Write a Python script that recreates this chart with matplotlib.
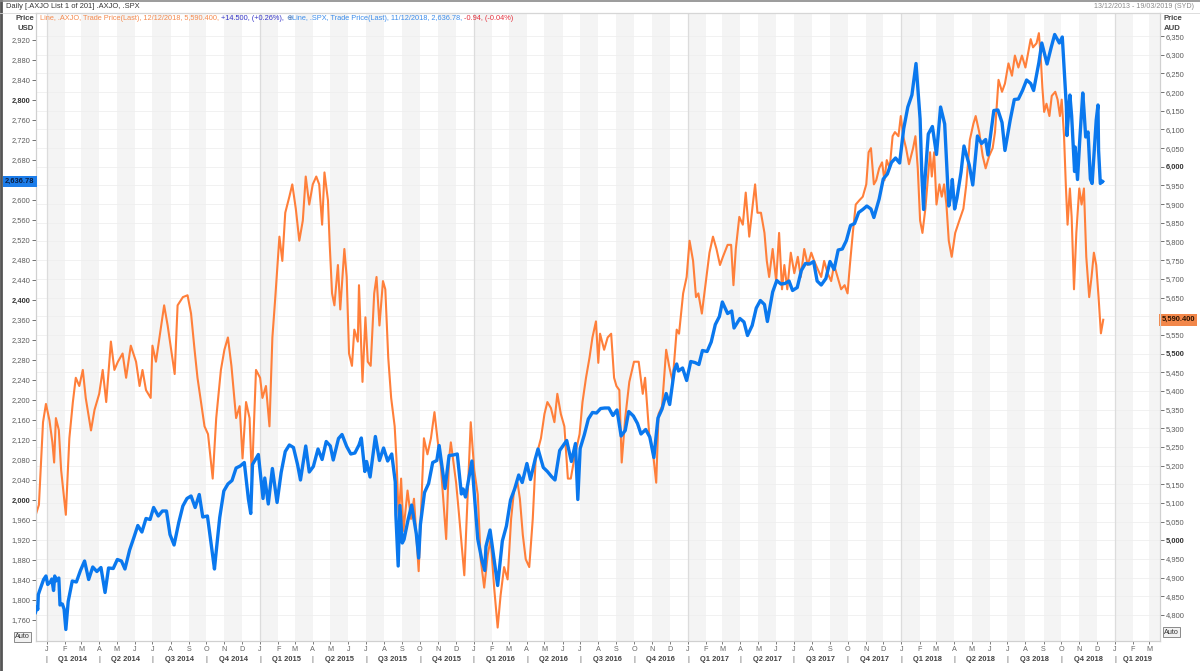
import matplotlib
matplotlib.use("Agg")
import matplotlib.pyplot as plt
import matplotlib.transforms as mtransforms
import pandas as pd

plt.rcParams["font.family"] = ["Liberation Sans", "DejaVu Sans"]

# .SPX daily closes (sampled), USD
spx_dates = [
    "2013-12-13", "2013-12-16", "2013-12-17", "2013-12-18", "2013-12-20", "2013-12-27", "2013-12-31",
    "2014-01-03", "2014-01-08", "2014-01-10", "2014-01-13", "2014-01-15", "2014-01-17", "2014-01-22",
    "2014-01-24", "2014-01-28", "2014-01-31", "2014-02-03", "2014-02-07", "2014-02-14", "2014-02-21",
    "2014-02-28", "2014-03-07", "2014-03-14", "2014-03-21", "2014-03-28", "2014-04-04", "2014-04-11",
    "2014-04-17", "2014-04-25", "2014-05-02", "2014-05-09", "2014-05-15", "2014-05-23", "2014-05-30",
    "2014-06-06", "2014-06-13", "2014-06-20", "2014-06-27", "2014-07-03", "2014-07-11", "2014-07-18",
    "2014-07-25", "2014-07-31", "2014-08-07", "2014-08-15", "2014-08-22", "2014-08-29", "2014-09-05",
    "2014-09-12", "2014-09-19", "2014-09-25", "2014-10-03", "2014-10-10", "2014-10-15", "2014-10-17",
    "2014-10-24", "2014-10-31", "2014-11-07", "2014-11-14", "2014-11-21", "2014-11-28", "2014-12-05",
    "2014-12-12", "2014-12-16", "2014-12-19", "2014-12-29",
    "2015-01-06", "2015-01-09", "2015-01-15", "2015-01-22", "2015-01-30", "2015-02-06", "2015-02-13",
    "2015-02-20", "2015-02-27", "2015-03-06", "2015-03-11", "2015-03-20", "2015-03-26", "2015-04-02",
    "2015-04-10", "2015-04-17", "2015-04-24", "2015-05-01", "2015-05-06", "2015-05-15", "2015-05-21",
    "2015-05-29", "2015-06-05", "2015-06-12", "2015-06-19", "2015-06-23", "2015-06-29", "2015-07-02",
    "2015-07-08", "2015-07-17", "2015-07-24", "2015-07-31", "2015-08-07", "2015-08-14", "2015-08-20",
    "2015-08-21", "2015-08-25", "2015-08-28", "2015-09-01", "2015-09-04", "2015-09-11", "2015-09-17",
    "2015-09-25", "2015-09-29", "2015-10-02", "2015-10-09", "2015-10-16", "2015-10-23", "2015-10-30",
    "2015-11-03", "2015-11-13", "2015-11-20", "2015-11-27", "2015-12-04", "2015-12-11", "2015-12-14",
    "2015-12-18", "2015-12-29", "2015-12-31",
    "2016-01-08", "2016-01-15", "2016-01-20", "2016-01-22", "2016-01-29", "2016-02-05", "2016-02-11",
    "2016-02-19", "2016-02-26", "2016-03-04", "2016-03-11", "2016-03-18", "2016-03-24", "2016-04-01",
    "2016-04-07", "2016-04-15", "2016-04-20", "2016-04-29", "2016-05-06", "2016-05-13", "2016-05-19",
    "2016-05-27", "2016-06-08", "2016-06-16", "2016-06-23", "2016-06-27", "2016-07-01", "2016-07-08",
    "2016-07-15", "2016-07-22", "2016-07-29", "2016-08-05", "2016-08-12", "2016-08-19", "2016-08-26",
    "2016-09-02", "2016-09-09", "2016-09-16", "2016-09-22", "2016-09-30", "2016-10-07", "2016-10-13",
    "2016-10-21", "2016-10-28", "2016-11-04", "2016-11-11", "2016-11-18", "2016-11-25", "2016-12-01",
    "2016-12-09", "2016-12-13", "2016-12-16", "2016-12-23", "2016-12-30",
    "2017-01-06", "2017-01-13", "2017-01-20", "2017-01-26", "2017-02-03", "2017-02-10", "2017-02-17",
    "2017-02-24", "2017-03-01", "2017-03-10", "2017-03-17", "2017-03-21", "2017-03-31", "2017-04-07",
    "2017-04-13", "2017-04-21", "2017-04-28", "2017-05-05", "2017-05-12", "2017-05-17", "2017-05-26",
    "2017-06-02", "2017-06-09", "2017-06-16", "2017-06-23", "2017-06-29", "2017-07-07", "2017-07-14",
    "2017-07-21", "2017-07-28", "2017-08-04", "2017-08-10", "2017-08-17", "2017-08-25", "2017-09-01",
    "2017-09-08", "2017-09-15", "2017-09-22", "2017-09-29", "2017-10-06", "2017-10-13", "2017-10-20",
    "2017-10-27", "2017-11-03", "2017-11-10", "2017-11-15", "2017-11-24", "2017-12-01", "2017-12-08",
    "2017-12-15", "2017-12-22", "2017-12-29",
    "2018-01-05", "2018-01-12", "2018-01-19", "2018-01-26", "2018-02-02", "2018-02-05", "2018-02-08",
    "2018-02-09", "2018-02-16", "2018-02-23", "2018-03-02", "2018-03-09", "2018-03-16", "2018-03-23",
    "2018-03-27", "2018-03-29", "2018-04-02", "2018-04-06", "2018-04-13", "2018-04-18", "2018-04-27",
    "2018-05-03", "2018-05-11", "2018-05-18", "2018-05-25", "2018-05-29", "2018-06-08", "2018-06-15",
    "2018-06-22", "2018-06-27", "2018-07-06", "2018-07-13", "2018-07-20", "2018-07-27", "2018-08-03",
    "2018-08-10", "2018-08-15", "2018-08-24", "2018-08-29", "2018-09-07", "2018-09-14", "2018-09-20",
    "2018-09-28", "2018-10-03", "2018-10-05", "2018-10-10", "2018-10-11", "2018-10-16", "2018-10-19",
    "2018-10-24", "2018-10-25", "2018-10-29", "2018-11-02", "2018-11-07", "2018-11-09", "2018-11-12",
    "2018-11-16", "2018-11-20", "2018-11-23", "2018-11-30", "2018-12-03", "2018-12-04", "2018-12-07",
    "2018-12-10", "2018-12-11",
]
spx_close = [
    1775, 1786, 1781, 1811, 1818, 1841, 1848,
    1831, 1837, 1842, 1819, 1848, 1838, 1844,
    1790, 1792, 1782, 1741, 1797, 1838, 1836,
    1859, 1878, 1841, 1866, 1857, 1865, 1815,
    1864, 1863, 1881, 1878, 1862, 1900, 1924,
    1949, 1936, 1963, 1961, 1985, 1968, 1978,
    1978, 1931, 1910, 1955, 1988, 2003, 2008,
    1985, 2011, 1966, 1968, 1906, 1862, 1886,
    1965, 2018, 2032, 2039, 2064, 2068, 2075,
    2002, 1973, 2071, 2091,
    2003, 2044, 1992, 2063, 1995, 2055, 2097,
    2110, 2105, 2071, 2040, 2108, 2056, 2067,
    2102, 2081, 2117, 2108, 2080, 2123, 2131,
    2107, 2092, 2094, 2110, 2124, 2057, 2077,
    2046, 2127, 2079, 2104, 2078, 2092, 2036,
    1971, 1868, 1989, 1914, 1921, 1961, 1990,
    1932, 1884, 1951, 2015, 2033, 2075, 2079,
    2109, 2023, 2089, 2090, 2092, 2012, 2022,
    2006, 2078, 2044,
    1922, 1880, 1859, 1907, 1940, 1880, 1829,
    1918, 1948, 2000, 2022, 2050, 2035, 2073,
    2041, 2081, 2102, 2065, 2057, 2047, 2040,
    2099, 2119, 2077, 2113, 2001, 2103, 2130,
    2162, 2175, 2174, 2183, 2184, 2184, 2169,
    2180, 2128, 2139, 2177, 2168, 2153, 2132,
    2141, 2126, 2085, 2164, 2182, 2213, 2191,
    2260, 2272, 2258, 2264, 2239,
    2277, 2275, 2271, 2299, 2297, 2316, 2351,
    2367, 2396, 2373, 2378, 2344, 2363, 2356,
    2329, 2349, 2384, 2399, 2391, 2357, 2416,
    2439, 2432, 2433, 2438, 2419, 2425, 2459,
    2473, 2472, 2477, 2438, 2430, 2443, 2477,
    2461, 2500, 2502, 2519, 2549, 2553, 2575,
    2581, 2588, 2582, 2565, 2602, 2642, 2652,
    2675, 2684, 2674,
    2743, 2786, 2810, 2873, 2762, 2649, 2581,
    2620, 2732, 2747, 2691, 2786, 2752, 2588,
    2612, 2641, 2582, 2604, 2656, 2708, 2670,
    2630, 2728, 2713, 2721, 2690, 2779, 2780,
    2755, 2699, 2760, 2801, 2802, 2819, 2840,
    2833, 2819, 2875, 2914, 2872, 2905, 2931,
    2914, 2926, 2886, 2786, 2729, 2810, 2768,
    2657, 2706, 2641, 2723, 2814, 2781, 2726,
    2736, 2642, 2633, 2760, 2790, 2700, 2633,
    2638, 2637,
]

# .AXJO (S&P/ASX 200), AUD
axjo_dates = [
    "2013-12-14", "2013-12-19", "2013-12-26", "2013-12-31",
    "2014-01-06", "2014-01-11", "2014-01-14", "2014-01-17", "2014-01-22", "2014-01-26", "2014-02-03",
    "2014-02-09", "2014-02-15", "2014-02-20", "2014-02-26", "2014-03-04", "2014-03-09", "2014-03-18",
    "2014-03-24", "2014-04-01", "2014-04-07", "2014-04-13", "2014-04-21", "2014-04-27", "2014-05-03",
    "2014-05-11", "2014-05-17", "2014-05-25", "2014-06-03", "2014-06-09", "2014-06-14", "2014-06-20",
    "2014-06-28", "2014-07-01", "2014-07-07", "2014-07-13", "2014-07-21", "2014-07-27", "2014-08-02",
    "2014-08-08", "2014-08-13", "2014-08-22", "2014-08-30", "2014-09-05", "2014-09-11", "2014-09-16",
    "2014-09-22", "2014-09-28", "2014-10-04", "2014-10-12", "2014-10-18", "2014-10-26", "2014-11-01",
    "2014-11-07", "2014-11-13", "2014-11-21", "2014-11-27", "2014-12-02", "2014-12-08", "2014-12-14",
    "2014-12-18", "2014-12-25",
    "2015-01-01", "2015-01-05", "2015-01-11", "2015-01-17", "2015-01-22", "2015-01-27", "2015-02-03",
    "2015-02-08", "2015-02-13", "2015-02-20", "2015-02-25", "2015-03-03", "2015-03-09", "2015-03-15",
    "2015-03-20", "2015-03-26", "2015-04-01", "2015-04-07", "2015-04-12", "2015-04-17", "2015-04-21",
    "2015-04-27", "2015-04-30", "2015-05-04", "2015-05-08", "2015-05-14", "2015-05-18", "2015-05-25",
    "2015-05-29", "2015-06-02", "2015-06-07", "2015-06-11", "2015-06-17", "2015-06-19", "2015-06-25",
    "2015-06-30", "2015-07-04", "2015-07-09", "2015-07-15", "2015-07-19", "2015-07-24", "2015-07-30",
    "2015-08-03", "2015-08-08", "2015-08-13", "2015-08-19", "2015-08-22", "2015-08-26", "2015-08-30",
    "2015-09-03", "2015-09-10", "2015-09-16", "2015-09-21", "2015-09-29", "2015-10-04", "2015-10-08",
    "2015-10-14", "2015-10-20", "2015-10-26", "2015-10-31", "2015-11-06", "2015-11-09", "2015-11-15",
    "2015-11-20", "2015-11-23", "2015-12-02", "2015-12-07", "2015-12-16", "2015-12-22", "2015-12-27",
    "2016-01-02", "2016-01-08", "2016-01-13", "2016-01-19", "2016-01-25", "2016-01-30", "2016-02-05",
    "2016-02-11", "2016-02-16", "2016-02-22", "2016-02-28", "2016-03-05", "2016-03-10", "2016-03-16",
    "2016-03-20", "2016-03-25", "2016-03-30", "2016-04-05", "2016-04-11", "2016-04-16", "2016-04-25",
    "2016-05-01", "2016-05-06", "2016-05-12", "2016-05-18", "2016-05-23", "2016-05-29", "2016-06-04",
    "2016-06-10", "2016-06-15", "2016-06-21", "2016-06-30", "2016-07-05", "2016-07-11", "2016-07-17",
    "2016-07-22", "2016-07-28", "2016-08-01", "2016-08-04", "2016-08-11", "2016-08-17", "2016-08-23",
    "2016-08-28", "2016-09-01", "2016-09-06", "2016-09-10", "2016-09-16", "2016-09-23", "2016-10-01",
    "2016-10-09", "2016-10-16", "2016-10-20", "2016-10-27", "2016-11-02", "2016-11-08", "2016-11-12",
    "2016-11-18", "2016-11-25", "2016-11-30", "2016-12-06", "2016-12-13", "2016-12-17", "2016-12-24",
    "2016-12-30",
    "2017-01-04", "2017-01-10", "2017-01-15", "2017-01-19", "2017-01-25", "2017-02-01", "2017-02-07",
    "2017-02-13", "2017-02-19", "2017-02-25", "2017-03-02", "2017-03-10", "2017-03-16", "2017-03-20",
    "2017-03-24", "2017-03-30", "2017-04-05", "2017-04-10", "2017-04-16", "2017-04-22", "2017-04-26",
    "2017-04-30", "2017-05-06", "2017-05-12", "2017-05-16", "2017-05-20", "2017-05-26", "2017-06-01",
    "2017-06-06", "2017-06-11", "2017-06-15", "2017-06-20", "2017-06-26", "2017-07-02", "2017-07-08",
    "2017-07-13", "2017-07-19", "2017-07-25", "2017-07-31", "2017-08-05", "2017-08-11", "2017-08-17",
    "2017-08-22", "2017-08-28", "2017-09-03", "2017-09-08", "2017-09-14", "2017-09-20", "2017-09-26",
    "2017-10-01", "2017-10-05", "2017-10-10", "2017-10-15", "2017-10-21", "2017-10-27", "2017-11-02",
    "2017-11-06", "2017-11-10", "2017-11-15", "2017-11-19", "2017-11-24", "2017-11-29", "2017-12-03",
    "2017-12-07", "2017-12-12", "2017-12-17", "2017-12-21", "2017-12-27", "2017-12-31",
    "2018-01-04", "2018-01-09", "2018-01-14", "2018-01-21", "2018-01-25", "2018-01-29", "2018-02-02",
    "2018-02-06", "2018-02-11", "2018-02-15", "2018-02-19", "2018-02-22", "2018-02-26", "2018-03-02",
    "2018-03-07", "2018-03-11", "2018-03-15", "2018-03-19", "2018-03-23", "2018-03-28", "2018-04-03",
    "2018-04-10", "2018-04-17", "2018-04-22", "2018-04-28", "2018-05-04", "2018-05-08", "2018-05-14",
    "2018-05-20", "2018-05-25", "2018-05-31", "2018-06-06", "2018-06-10", "2018-06-16", "2018-06-22",
    "2018-06-27", "2018-07-03", "2018-07-09", "2018-07-14", "2018-07-20", "2018-07-26", "2018-08-01",
    "2018-08-06", "2018-08-10", "2018-08-14", "2018-08-20", "2018-08-24", "2018-08-27", "2018-08-30",
    "2018-09-02", "2018-09-06", "2018-09-11", "2018-09-15", "2018-09-21", "2018-09-25", "2018-09-29",
    "2018-10-02", "2018-10-06", "2018-10-09", "2018-10-12", "2018-10-16", "2018-10-19", "2018-10-23",
    "2018-10-27", "2018-11-01", "2018-11-05", "2018-11-09", "2018-11-13", "2018-11-18", "2018-11-22",
    "2018-11-26", "2018-11-30", "2018-12-04", "2018-12-08", "2018-12-12",
]
axjo_close = [
    5070, 5095, 5316, 5365,
    5321, 5262, 5208, 5327, 5295, 5187, 5068,
    5273, 5370, 5435, 5413, 5456, 5381, 5294,
    5349, 5392, 5456, 5370, 5532, 5456, 5478,
    5500, 5435, 5521, 5478, 5413, 5456, 5402,
    5381, 5521, 5478, 5543, 5629, 5575, 5510,
    5445, 5629, 5651, 5656, 5607, 5510, 5435,
    5370, 5305, 5284, 5165, 5327, 5456, 5510,
    5543, 5467, 5327, 5359, 5219, 5370, 5327,
    5165, 5456,
    5435, 5381, 5413, 5305, 5543, 5651, 5813,
    5748, 5877, 5920, 5953, 5888, 5802, 5856,
    5974, 5899, 5953, 5974, 5953, 5845, 5985,
    5910, 5791, 5661, 5629, 5737, 5618, 5780,
    5705, 5500, 5467, 5564, 5532, 5683, 5424,
    5597, 5478, 5467, 5661, 5705, 5575, 5694,
    5672, 5489, 5381, 5305, 5219, 5057, 5165,
    5025, 5133, 5057, 5111, 4917, 5111, 5273,
    5230, 5273, 5343, 5273, 5197, 5133, 5003,
    5219, 5262, 5154, 5068, 4906, 5133, 5316,
    5187, 5122, 4949, 4873, 4960, 5003, 4873,
    4766, 4852, 4928, 4895, 5057, 5133, 5154,
    5111, 5014, 4949, 4928, 5057, 5219, 5273,
    5338, 5370, 5354, 5316, 5392, 5338, 5305,
    5165, 5165, 5219, 5284, 5370, 5435, 5489,
    5543, 5586, 5475, 5553, 5510, 5543, 5553,
    5435, 5413, 5402, 5208, 5327, 5424, 5478,
    5478, 5392, 5435, 5284, 5241, 5154, 5338,
    5359, 5510, 5467, 5424, 5564, 5553, 5661,
    5705,
    5802, 5748, 5651, 5661, 5607, 5694, 5770,
    5813, 5780, 5737, 5759, 5791, 5791, 5683,
    5780, 5866, 5845, 5931, 5813, 5899, 5953,
    5877, 5877, 5823, 5748, 5705, 5780, 5694,
    5823, 5672, 5737, 5672, 5770, 5715, 5759,
    5705, 5780, 5737, 5770, 5748, 5726, 5705,
    5748, 5715, 5694, 5737, 5705, 5672, 5683,
    5661, 5737, 5823, 5899, 5910, 5920, 5953,
    6039, 6050, 5953, 5964, 5996, 6012, 5964,
    6018, 5996, 6082, 6093, 6082, 6136,
    6082, 6050, 6007, 6050, 6082, 5996, 5856,
    5823, 5888, 5964, 6039, 5974, 6039, 5899,
    5953, 5920, 5953, 5899, 5802, 5759, 5823,
    5856, 5888, 5953, 6072, 6115, 6136, 6093,
    6029, 5996, 6029, 6050, 6093, 6233, 6201,
    6223, 6277, 6244, 6298, 6266, 6298, 6266,
    6309, 6342, 6320, 6331, 6358, 6298, 6212,
    6147, 6169, 6136, 6190, 6201, 6180, 6136,
    6180, 6082, 5953, 5845, 5942, 5866, 5672,
    5823, 5942, 5899, 5942, 5759, 5651, 5705,
    5770, 5737, 5651, 5554, 5590.4,
]

spx_ticks = list(range(1760, 2921, 40))
spx_bold = [2000, 2400, 2800]
axjo_ticks = list(range(4800, 6351, 50))
axjo_bold = [5000, 5500, 6000]
month_letters = "JFMAMJJASOND"

x_start = pd.Timestamp("2013-12-14")
x_end = pd.Timestamp("2019-03-19")

ORANGE = "#FF7F3A"
BLUE = "#0A78EE"
TICK_C = "#5A5A5A"
FS = 5.4

fig = plt.figure(figsize=(12, 6.71), dpi=100)
W, H = 1200, 671
ax = fig.add_axes([36 / W, 1 - 641 / H, 1124 / W, 628 / H])
ax2 = ax.twinx()

# monthly stripes and year lines
months = pd.date_range("2013-12-01", "2019-05-01", freq="MS")
for m0, m1 in zip(months[:-1], months[1:]):
    if m0.month % 2 == 1:
        ax.axvspan(m0, m1, color="#F4F4F4", lw=0, zorder=0)
for yr in range(2014, 2020):
    ax.axvline(pd.Timestamp(f"{yr}-01-01"), color="#DCDCDC", lw=0.9, zorder=0.5)
for t in axjo_ticks:
    ax.axhline(t, color="#EFEFEF", lw=0.6, zorder=0.4)

ax.plot(pd.to_datetime(axjo_dates), axjo_close, color=ORANGE, lw=1.5, zorder=3)
ax2.plot(pd.to_datetime(spx_dates), spx_close, color=BLUE, lw=2.4, zorder=3)

ax.set_xlim(x_start, x_end)
ax.set_ylim(4730, 6412)
ax2.set_ylim(1718, 2974)

# right axis = AXJO, left axis = SPX; labels hidden behind the last-value flags are left blank
ax.yaxis.tick_right()
ax2.yaxis.tick_left()
ax.set_yticks(axjo_ticks, ["" if v == 5600 else f"{v:,}" for v in axjo_ticks])
ax2.set_yticks(spx_ticks, ["" if v == 2640 else f"{v:,}" for v in spx_ticks])
for a, bold in ((ax, axjo_bold), (ax2, spx_bold)):
    a.tick_params(axis="y", labelsize=FS, colors=TICK_C, length=3, width=0.6, pad=1)
    for lab in a.get_yticklabels():
        if lab.get_text() in [f"{b:,}" for b in bold]:
            lab.set_fontweight("bold")
            lab.set_color("#333333")

for a in (ax, ax2):
    for sp in a.spines.values():
        sp.set_color("#D0D0D0")
        sp.set_linewidth(0.8)

# month letters
mticks = pd.date_range("2014-01-01", "2019-03-01", freq="MS")
ax.set_xticks(mticks, [month_letters[d.month - 1] for d in mticks])
ax.tick_params(axis="x", labelsize=5.2, colors="#666666", length=2, width=0.6, pad=1.5)

# quarter labels
tr = mtransforms.blended_transform_factory(ax.transData, ax.transAxes)
quarters = pd.date_range("2014-01-01", "2019-01-01", freq="QS")
for q in quarters:
    q_end = min(q + pd.DateOffset(months=3), x_end)
    mid = q + (q_end - q) / 2
    ax.text(mid, -0.024, f"Q{(q.month - 1) // 3 + 1} {q.year}", transform=tr,
            ha="center", va="top", fontsize=FS, fontweight="bold", color="#444444")
    ax.text(q, -0.024, "|", transform=tr, ha="center", va="top", fontsize=FS, color="#555555")

# last value flags
trl = mtransforms.blended_transform_factory(ax2.transAxes, ax2.transData)
ax2.text(-0.0015, spx_close[-1], "2,636.78", transform=trl, ha="right", va="center",
         fontsize=FS, fontweight="bold", color="#0A1F44", zorder=10, clip_on=False,
         bbox=dict(boxstyle="square,pad=0.3", fc="#1C7DEA", ec="none"))
trr = mtransforms.blended_transform_factory(ax.transAxes, ax.transData)
ax.text(1.0015, axjo_close[-1], "5,590.400", transform=trr, ha="left", va="center",
        fontsize=FS, fontweight="bold", color="#2A1200", zorder=10, clip_on=False,
        bbox=dict(boxstyle="square,pad=0.3", fc="#F2874A", ec="none"))

# axis captions
for xx, ha, unit in ((34, "right", "USD"), (1164, "left", "AUD")):
    fig.text(xx / W, 1 - 19 / H, "Price", ha=ha, va="center", fontsize=5.6, fontweight="bold", color="#444444")
    fig.text(xx / W, 1 - 28 / H, unit, ha=ha, va="center", fontsize=5.6, fontweight="bold", color="#444444")

# header
fig.text(6 / W, 1 - 7 / H, "Daily [.AXJO List 1 of 201] .AXJO, .SPX", ha="left", va="center",
         fontsize=5.4, color="#333333")
fig.text(1194 / W, 1 - 7 / H, "13/12/2013 - 19/03/2019 (SYD)", ha="right", va="center",
         fontsize=5.1, color="#888888")

# legend line
segs = [
    ("Line, .AXJO, Trade Price(Last), 12/12/2018, 5,590.400, ", "#F58A4E"),
    ("+14.500, (+0.26%), ", "#3535C8"),
    ("\u2295", "#3A6FB5"),
    ("Line, .SPX, Trade Price(Last), 11/12/2018, 2,636.78, ", "#3D8DEB"),
    ("-0.94, (-0.04%)", "#E4303C"),
]
prev = fig.text(40 / W, 1 - 19 / H, segs[0][0], ha="left", va="center", fontsize=5.3, color=segs[0][1])
for s, c in segs[1:]:
    prev = ax.annotate(s, xy=(1, 0.5), xycoords=prev, ha="left", va="center",
                       fontsize=5.3, color=c, annotation_clip=False)

# "Auto" boxes
for xx, yy in ((15, 637), (1164, 632)):
    fig.text(xx / W, 1 - yy / H, "Auto", ha="left", va="center", fontsize=5.2, color="#333333",
             bbox=dict(boxstyle="square,pad=0.2", fc="#F2F2F2", ec="#8A8A8A", lw=0.7))

# frame
fig.add_artist(plt.Line2D([0.001, 0.001], [0, 1], color="#555555", lw=2, transform=fig.transFigure))
fig.add_artist(plt.Line2D([0, 1], [0.999, 0.999], color="#8A8A8A", lw=1.2, transform=fig.transFigure))
fig.add_artist(plt.Line2D([0, 1], [1 - 13 / H, 1 - 13 / H], color="#D8D8D8", lw=0.6, transform=fig.transFigure))

fig.savefig("out.png", dpi=100)
